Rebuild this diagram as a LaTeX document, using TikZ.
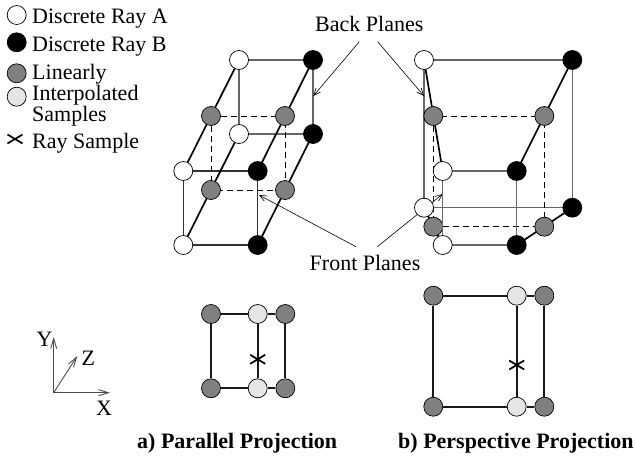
\documentclass[tikz,border=0pt]{standalone}
\usepackage{fontspec}
\setmainfont{Liberation Serif}
\usetikzlibrary{arrows.meta}
\tikzset{
    sample/.style={draw, circle, line width=0.7pt, minimum size=19pt, inner sep=0pt},
    rayA/.style={sample, fill=white},
    rayB/.style={sample, fill=black},
    lerp/.style={sample, fill=black!50},
    interp/.style={sample, fill=black!10},
    ray/.style={line width=1.7pt},
    plane/.style={line width=1.3pt, draw=black!60},
    front/.style={line width=1.2pt, draw=black!80},
    slice/.style={line width=1pt, dash pattern=on 6pt off 4pt},
    final/.style={line width=1.8pt, draw=black!90},
    callout/.style={line width=0.6pt, -{Straight Barb[length=7pt,width=6pt]}},
    axis/.style={line width=0.9pt, draw=black!70, -{Straight Barb[length=10pt,width=6pt]}},
    label/.style={inner sep=0pt, anchor=base west, font=\fontsize{22}{24}\selectfont},
    caption/.style={inner sep=0pt, anchor=base west, font=\fontsize{22}{24}\selectfont\bfseries}
}
\newcommand{\xmark}[1]{
    \draw [line width=1.7pt] ([shift={(-7.5,-4.5)}]#1) -- ([shift={(7.5,4.5)}]#1);
    \draw [line width=1.7pt] ([shift={(-7.5,4.5)}]#1) -- ([shift={(7.5,-4.5)}]#1);
}

\begin{document}
\begin{tikzpicture}[x=1pt, y=-1pt]
    \useasboundingbox (0,0) rectangle (635,458);

    % legend
    \node [rayA] (keyA) at (16.7,15) {};
    \node [rayB] (keyB) at (16.7,42.3) {};
    \node [lerp] (keyL) at (16.7,73.3) {};
    \node [interp] (keyI) at (16.7,96.7) {};
    \coordinate (keyX) at (15,139);
    \xmark{keyX}
    \node [label] (txtA) at (32,23) {Discrete Ray A};
    \node [label] (txtB) at (32,51.7) {Discrete Ray B};
    \node [label] (txtL) at (32,79) {Linearly};
    \node [label] (txtI) at (32,100.7) {Interpolated};
    \node [label] (txtS) at (32,121.7) {Samples};
    \node [label] (txtX) at (32,148) {Ray Sample};

    % parallel cube
    \coordinate (aBTL) at (239,60);
    \coordinate (aBTR) at (313,60);
    \coordinate (aBBL) at (239,134);
    \coordinate (aBBR) at (313,134);
    \coordinate (aFTL) at (183.3,171);
    \coordinate (aFTR) at (257.7,171);
    \coordinate (aFBL) at (183.3,245);
    \coordinate (aFBR) at (257.7,245);
    \coordinate (aMTL) at (211,116);
    \coordinate (aMTR) at (285,116);
    \coordinate (aMBL) at (211,190);
    \coordinate (aMBR) at (285,190);
    \draw [plane] (aBBL) -- (aBTL) -- (aBTR) -- (aBBR) -- cycle;
    \draw [slice] (aMTL) rectangle (aMBR);
    \draw [front] (aFTL) rectangle (aFBR);
    \draw [ray] (aBTL) -- (aFTL);
    \draw [ray] (aBTR) -- (aFTR);
    \draw [ray] (aBBL) -- (aFBL);
    \draw [ray] (aBBR) -- (aFBR);
    \node [rayA] at (aBTL) {};
    \node [rayB] at (aBTR) {};
    \node [rayA] at (aBBL) {};
    \node [rayB] at (aBBR) {};
    \node [lerp] at (aMTL) {};
    \node [lerp] at (aMTR) {};
    \node [lerp] at (aMBL) {};
    \node [lerp] at (aMBR) {};
    \node [rayA] at (aFTL) {};
    \node [rayB] at (aFTR) {};
    \node [rayA] at (aFBL) {};
    \node [rayB] at (aFBR) {};

    % perspective cube
    \coordinate (bBTL) at (424,60);
    \coordinate (bBTR) at (572.3,60);
    \coordinate (bBBL) at (424,207.7);
    \coordinate (bBBR) at (572.3,207.7);
    \coordinate (bFTL) at (442.7,171);
    \coordinate (bFTR) at (516.7,171);
    \coordinate (bFBL) at (442.7,245);
    \coordinate (bFBR) at (516.7,245);
    \coordinate (bMTL) at (433.3,116);
    \coordinate (bMTR) at (544.3,116);
    \coordinate (bMBL) at (433.3,226.7);
    \coordinate (bMBR) at (544.3,226.7);
    \coordinate (frontB) at (377.3,246.7);
    \draw [plane] (bBBL) -- (bBTL) -- (bBTR) -- (bBBR) -- cycle;
    \draw [slice] (bMTL) rectangle (bMBR);
    \draw [ray] (bBTL) -- (bFTL);
    \draw [ray] (bBTR) -- (bFTR);
    \draw [ray] (bBBL) -- (bFBL);
    \draw [ray] (bBBR) -- (bFBR);
    \draw [callout] (frontB) -- (442.7,194);
    \node [lerp] at (bMTL) {};
    \node [lerp] at (bMTR) {};
    \node [lerp] at (bMBL) {};
    \node [lerp] at (bMBR) {};
    \draw [plane] (bFTL) rectangle (bFBR);
    \node [rayA] at (bBTL) {};
    \node [rayB] at (bBTR) {};
    \node [rayA] at (bBBL) {};
    \node [rayB] at (bBBR) {};
    \node [rayA] at (bFTL) {};
    \node [rayB] at (bFTR) {};
    \node [rayA] at (bFBL) {};
    \node [rayB] at (bFBR) {};

    % callouts
    \node [label] (back) at (315,31.7) {Back Planes};
    \node [label] (frontp) at (309.5,270.7) {Front Planes};
    \coordinate (backA) at (359.3,41.7);
    \coordinate (backB) at (377.7,41.7);
    \coordinate (frontA) at (356,246.7);
    \draw [callout] (backA) -- (313.3,96);
    \draw [callout] (backB) -- (424,96);
    \draw [callout] (frontA) -- (259,195);

    % parallel slice
    \node [lerp] (pTL) at (211,314) {};
    \node [interp] (pTM) at (257.7,314) {};
    \node [lerp] (pTR) at (285.3,314) {};
    \node [lerp] (pBL) at (211,388.3) {};
    \node [interp] (pBM) at (257.7,388.3) {};
    \node [lerp] (pBR) at (285.3,388.3) {};
    \draw [final] (pTL) -- (pTM);
    \draw [final] (pTM) -- (pTR);
    \draw [final] (pBL) -- (pBM);
    \draw [final] (pBM) -- (pBR);
    \draw [final] (pTL) -- (pBL);
    \draw [final] (pTM) -- (pBM);
    \draw [final] (pTR) -- (pBR);
    \coordinate (pX) at (257.7,359.3);
    \xmark{pX}

    % perspective slice
    \node [lerp] (qTL) at (433.3,295.7) {};
    \node [interp] (qTM) at (516.7,295.7) {};
    \node [lerp] (qTR) at (544.3,295.7) {};
    \node [lerp] (qBL) at (433.3,406.7) {};
    \node [interp] (qBM) at (516.7,406.7) {};
    \node [lerp] (qBR) at (544.3,406.7) {};
    \draw [final] (qTL) -- (qTM);
    \draw [final] (qTM) -- (qTR);
    \draw [final] (qBL) -- (qBM);
    \draw [final] (qBM) -- (qBR);
    \draw [final] (qTL) -- (qBL);
    \draw [final] (qTM) -- (qBM);
    \draw [final] (qTR) -- (qBR);
    \coordinate (qX) at (516.7,365);
    \xmark{qX}

    % axes
    \coordinate (org) at (53.7,392.7);
    \coordinate (tipX) at (110,392.7);
    \coordinate (tipY) at (53.7,337);
    \coordinate (tipZ) at (77.3,356);
    \draw [axis] (org) -- (tipX);
    \draw [axis] (org) -- (tipY);
    \draw [axis] (org) -- (tipZ);
    \node [label] (labY) at (36.5,346.7) {Y};
    \node [label] (labZ) at (81.5,365) {Z};
    \node [label] (labX) at (96,415) {X};

    % captions
    \node [caption] (capA) at (137,448) {a) Parallel Projection};
    \node [caption] (capB) at (398,448) {b) Perspective Projection};
\end{tikzpicture}
\end{document}
